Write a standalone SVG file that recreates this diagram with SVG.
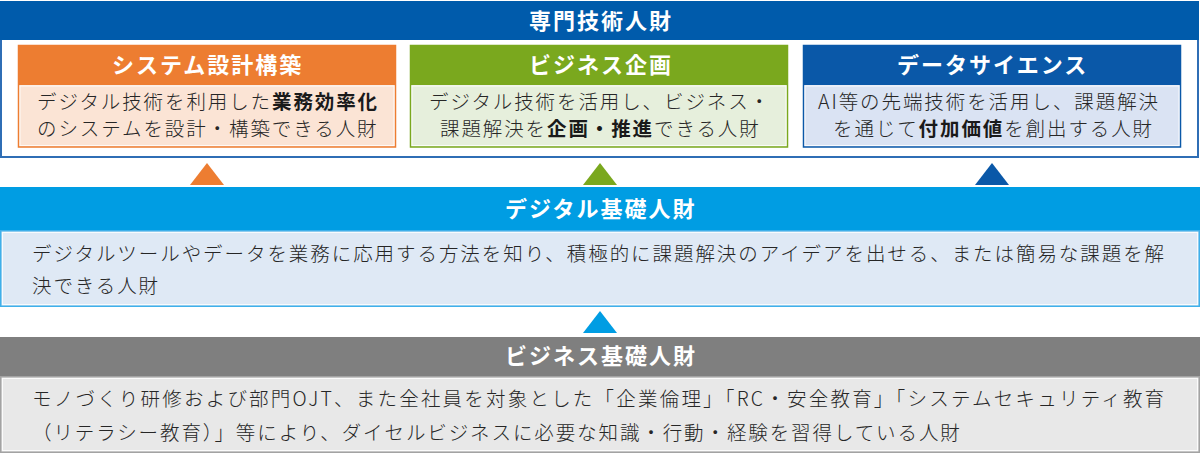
<svg xmlns="http://www.w3.org/2000/svg" width="1200" height="454" viewBox="0 0 1200 454">
<style>
text{font-family:"Noto Sans CJK JP","Noto Sans CJK SC",sans-serif}
.title{font-size:22px;font-weight:700;fill:#fff;letter-spacing:2px}
.body{font-size:19.5px;font-weight:300;fill:#262626;letter-spacing:1.9px}
.b{font-weight:700;fill:#1a1a1a}
.inner{fill:none;stroke:#fff;stroke-width:1;opacity:.8}
</style>
<rect width="1200" height="454" fill="#fff"/>
<g id="senmon">
<rect x="1" y="2" width="1197" height="155" fill="#fff" stroke="#2f6eb5" stroke-width="2"/>
<rect x="0" y="1" width="1199" height="39" fill="#005bab"/>
<text class="title" x="529" y="29">専門技術人財</text>
</g>
<g id="system">
<rect x="18.5" y="45.5" width="377" height="101.5" fill="#fbe4d5" stroke="#ed7d31" stroke-width="1.5"/>
<rect x="18.5" y="45.5" width="377" height="39.5" fill="#ed7d31"/>
<rect x="20" y="86" width="374" height="59.5" class="inner"/>
<text class="title" x="112" y="73">システム設計構築</text>
<text class="body" x="37" y="109">デジタル技術を利用した<tspan class="b">業務効率化</tspan></text>
<text class="body" x="37" y="136">のシステムを設計・構築できる人財</text>
</g>
<g id="business-plan">
<rect x="410.5" y="45.5" width="377" height="101.5" fill="#e6efdc" stroke="#7aa81e" stroke-width="1.5"/>
<rect x="410.5" y="45.5" width="377" height="39.5" fill="#7aa81e"/>
<rect x="412" y="86" width="374" height="59.5" class="inner"/>
<text class="title" x="529" y="73">ビジネス企画</text>
<text class="body" x="429" y="109">デジタル技術を活用し、ビジネス・</text>
<text class="body" x="440" y="136">課題解決を<tspan class="b">企画・推進</tspan>できる人財</text>
</g>
<g id="data-science">
<rect x="803.5" y="45.5" width="377" height="101.5" fill="#dae3f3" stroke="#0a58a8" stroke-width="1.5"/>
<rect x="803.5" y="45.5" width="377" height="39.5" fill="#0a58a8"/>
<rect x="805" y="86" width="374" height="59.5" class="inner"/>
<text class="title" x="897" y="73">データサイエンス</text>
<text class="body" x="818" y="109" textLength="342" lengthAdjust="spacing">AI等の先端技術を活用し、課題解決</text>
<text class="body" x="833" y="136">を通じて<tspan class="b">付加価値</tspan>を創出する人財</text>
</g>
<g id="digital">
<rect x="0" y="187" width="1200" height="43" fill="#009de3"/>
<rect x="0.75" y="230.75" width="1198.5" height="75.5" fill="#dfe9f5" stroke="#3fb0ea" stroke-width="1.5"/>
<rect x="2.5" y="232.5" width="1195" height="72" class="inner"/>
<text class="title" x="505" y="217">デジタル基礎人財</text>
<text class="body" x="32" y="261" textLength="1134" lengthAdjust="spacing">デジタルツールやデータを業務に応用する方法を知り、積極的に課題解決のアイデアを出せる、または簡易な課題を解</text>
<text class="body" x="32" y="293">決できる人財</text>
</g>
<g id="business-basic">
<rect x="0" y="337" width="1200" height="39" fill="#7f7f7f"/>
<rect x="0.75" y="376.75" width="1198.5" height="75.5" fill="#e8e8e8" stroke="#a3a3a3" stroke-width="1.5"/>
<rect x="2.5" y="378.5" width="1195" height="72" class="inner"/>
<text class="title" x="505" y="364">ビジネス基礎人財</text>
<text class="body" x="32" y="406" textLength="1134" lengthAdjust="spacing">モノづくり研修および部門OJT、また全社員を対象とした「企業倫理」「RC・安全教育」「システムセキュリティ教育</text>
<text class="body" x="32" y="440">（リテラシー教育）」等により、ダイセルビジネスに必要な知識・行動・経験を習得している人財</text>
</g>
<g id="connectors">
<polygon points="190,185 224,185 207,163" fill="#ed7d31"/>
<polygon points="583,185 617,185 600,163" fill="#7aa81e"/>
<polygon points="975,185 1009,185 992,163" fill="#0a58a8"/>
<polygon points="583,333 617,333 600,311" fill="#009de3"/>
</g>
</svg>
